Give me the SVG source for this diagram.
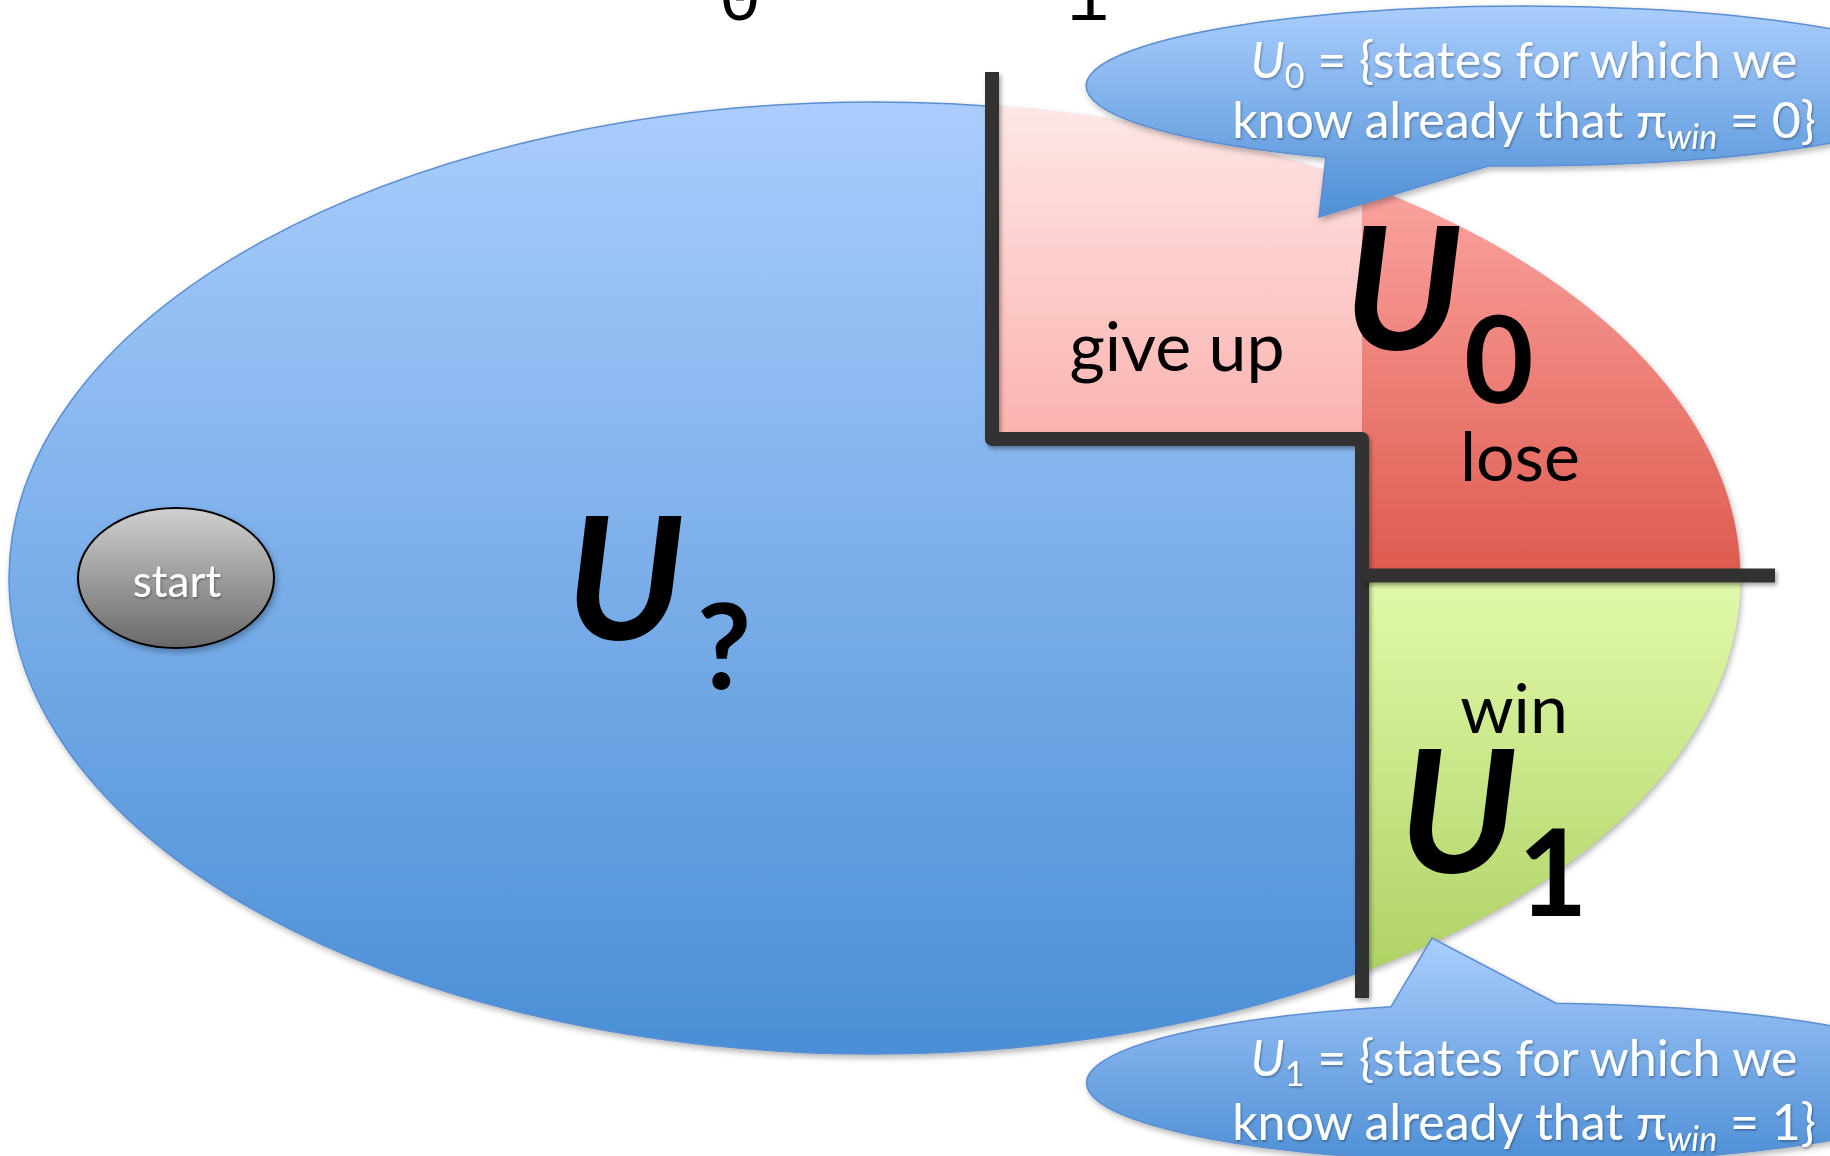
<svg xmlns="http://www.w3.org/2000/svg" width="1830" height="1156" viewBox="0 0 1830 1156">
<style>
.lbl{font-family:Lato,"Open Sans","DejaVu Sans",sans-serif;fill:#000}
.big{font-family:Lato,"Open Sans","DejaVu Sans",sans-serif;font-weight:bold;fill:#000}
.call{font-family:Lato,"Open Sans","DejaVu Sans",sans-serif;fill:#fff;font-size:50px}
.wall{fill:none;stroke:#333;stroke-width:14;stroke-linejoin:round;filter:url(#shw)}
.cbub{stroke:#5b8ed1;stroke-width:1.5;filter:url(#sh2)}
</style>
<defs>
<linearGradient id="gBlue" x1="0" y1="0" x2="0" y2="1"><stop offset="0" stop-color="#aacdfd"/><stop offset="1" stop-color="#4a8fd6"/></linearGradient>
<linearGradient id="gPink" x1="0" y1="0" x2="0" y2="1"><stop offset="0" stop-color="#fee8e8"/><stop offset="1" stop-color="#fbb2ae"/></linearGradient>
<linearGradient id="gRed" x1="0" y1="0" x2="0" y2="1"><stop offset="0" stop-color="#fba4a0"/><stop offset="1" stop-color="#de5a4e"/></linearGradient>
<linearGradient id="gGreen" x1="0" y1="0" x2="0" y2="1"><stop offset="0" stop-color="#e2faab"/><stop offset="1" stop-color="#afd264"/></linearGradient>
<linearGradient id="gGray" x1="0" y1="0" x2="0" y2="1"><stop offset="0" stop-color="#d0d0d0"/><stop offset="1" stop-color="#696969"/></linearGradient>
<linearGradient id="gCall" x1="0" y1="0" x2="0" y2="1"><stop offset="0" stop-color="#aacdfd"/><stop offset="1" stop-color="#4e8fd5"/></linearGradient>
<clipPath id="cE"><ellipse cx="874" cy="578" rx="866.5" ry="477.5"/></clipPath>
<filter id="shw" filterUnits="userSpaceOnUse" x="0" y="0" width="1830" height="1156"><feDropShadow dx="2" dy="3" stdDeviation="2" flood-color="#000" flood-opacity="0.35"/></filter>
<filter id="sh2" x="-10%" y="-10%" width="130%" height="130%"><feDropShadow dx="2" dy="3" stdDeviation="3" flood-color="#000" flood-opacity="0.3"/></filter>
<filter id="tsh"><feDropShadow dx="1" dy="1.5" stdDeviation="1" flood-color="#000" flood-opacity="0.35"/></filter>
</defs>
<rect width="1830" height="1156" fill="#fff"/>

<g id="top-digits">
<text x="740" y="20" font-family="'Liberation Mono',monospace" font-size="70" text-anchor="middle">0</text>
<text x="1088" y="20" font-family="'Liberation Mono',monospace" font-size="70" text-anchor="middle">1</text>
</g>

<g id="region-unknown">
<ellipse cx="874" cy="578" rx="865" ry="476" fill="url(#gBlue)" stroke="#5a8fd2" stroke-width="1.5" filter="url(#sh2)"/>
</g>
<g id="region-giveup" clip-path="url(#cE)">
<rect x="992" y="100" width="370" height="340" fill="url(#gPink)"/>
</g>
<g id="region-lose" clip-path="url(#cE)">
<rect x="1362" y="183" width="390" height="393" fill="url(#gRed)"/>
</g>
<g id="region-win" clip-path="url(#cE)">
<rect x="1362" y="575" width="390" height="398" fill="url(#gGreen)"/>
</g>

<g id="connectors">
<polyline class="wall" points="992,72 992,439 1362,439 1362,998"/>
<line class="wall" x1="1362" y1="575.5" x2="1775" y2="575.5"/>
</g>

<g id="label-giveup"><text class="lbl" x="1177" y="371" font-size="68" text-anchor="middle">give up</text></g>
<g id="label-lose"><text class="lbl" x="1520" y="481" font-size="68" text-anchor="middle">lose</text></g>
<g id="label-win"><text class="lbl" x="1514" y="733" font-size="68" text-anchor="middle">win</text></g>

<g id="label-Uq">
<text class="big" x="566" y="640" font-size="171" font-style="italic">U</text>
<text class="big" x="697" y="689" font-size="118">?</text>
</g>
<g id="label-U0">
<text class="big" x="1344" y="350" font-size="171" font-style="italic">U</text>
<text class="big" x="1464" y="403" font-size="120">0</text>
</g>
<g id="label-U1">
<text class="big" x="1399" y="873" font-size="171" font-style="italic">U</text>
<text class="big" x="1518" y="916" font-size="120">1</text>
</g>

<g id="start">
<ellipse cx="176" cy="578" rx="98" ry="70" fill="url(#gGray)" stroke="#000" stroke-width="2" filter="url(#sh2)"/>
<text x="177" y="597" font-family="Lato,'Open Sans',sans-serif" font-size="44" fill="#fff" text-anchor="middle" filter="url(#tsh)">start</text>
</g>

<g id="callout-U0">
<path class="cbub" fill="url(#gCall)" d="M1326,157.3 L1319,217 L1489,165.7 A438,80 0 1,0 1326,157.3 Z"/>
<text class="call" x="1524" y="78" text-anchor="middle" filter="url(#tsh)"><tspan font-style="italic">U</tspan><tspan font-size="34" dy="10">0</tspan><tspan dy="-10"> = {states for which we</tspan></text>
<text class="call" x="1524" y="138" text-anchor="middle" filter="url(#tsh)">know already that π<tspan font-size="34" font-style="italic" dy="11">win</tspan><tspan dy="-11"> = 0}</tspan></text>
</g>

<g id="callout-U1">
<path class="cbub" fill="url(#gCall)" d="M1391,1006.8 L1432,938 L1556,1003.2 A438,80 0 1,1 1391,1006.8 Z"/>
<text class="call" x="1524" y="1076" text-anchor="middle" filter="url(#tsh)"><tspan font-style="italic">U</tspan><tspan font-size="34" dy="10">1</tspan><tspan dy="-10"> = {states for which we</tspan></text>
<text class="call" x="1524" y="1140" text-anchor="middle" filter="url(#tsh)">know already that π<tspan font-size="34" font-style="italic" dy="11">win</tspan><tspan dy="-11"> = 1}</tspan></text>
</g>
</svg>
